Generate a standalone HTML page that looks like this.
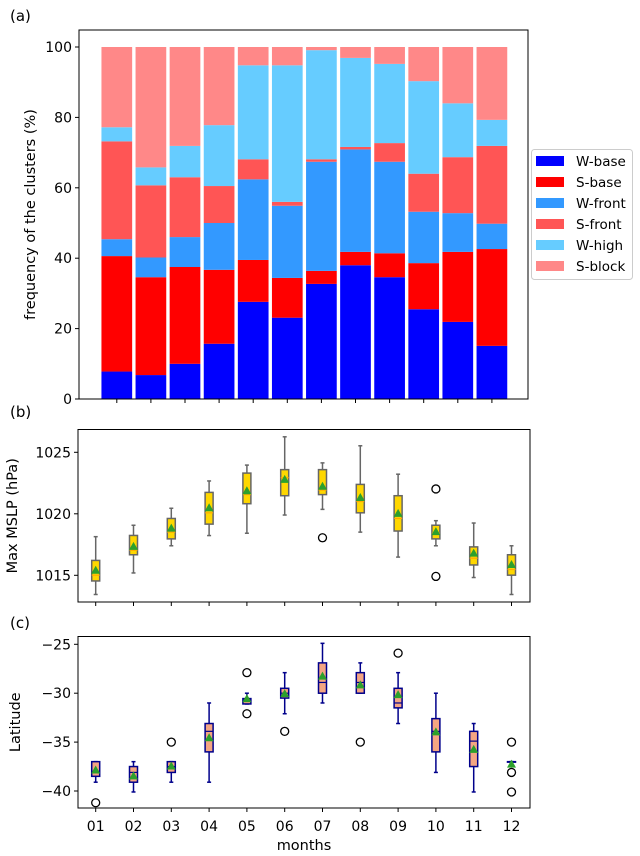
<!DOCTYPE html>
<html><head><meta charset="utf-8"><style>
html,body{margin:0;padding:0;background:#fff;}
svg{display:block;font-family:"DejaVu Sans","Liberation Sans",sans-serif;}
</style></head><body>
<svg id="fig" width="640" height="856" viewBox="0 0 640 856" xmlns="http://www.w3.org/2000/svg">
<g id="pa"></g>
<g id="pb"></g>
<g id="pc"></g>
</svg>
<script>
// Panel (a) data: percentage per cluster per month
const months = ["01","02","03","04","05","06","07","08","09","10","11","12"];
const clusterNames = ["W-base","S-base","W-front","S-front","W-high","S-block"];
const clusterColors = ["#0000ff","#ff0000","#3399ff","#ff5555","#66ccff","#ff8888"];
const wBase  = [7.8,6.8,10.0,15.7,27.6,23.1,32.7,38.0,34.6,25.5,21.9,15.1];
const sBase  = [32.8,27.8,27.5,21.0,11.9,11.3,3.7,3.8,6.8,13.1,19.9,27.5];
const wFront = [4.8,5.6,8.5,13.3,22.9,20.5,31.0,29.1,26.0,14.6,11.0,7.2];
const sFront = [27.8,20.5,17.0,10.5,5.7,1.1,0.7,0.7,5.3,10.8,15.9,22.1];
const wHigh  = [4.0,5.1,8.9,17.3,26.7,38.8,31.0,25.3,22.5,26.3,15.3,7.4];
const sBlock = [22.8,34.2,28.1,22.2,5.2,5.2,0.9,3.1,4.8,9.7,16.0,20.7];
const yTicksA = [0,20,40,60,80,100];
// Panel (b) Max MSLP boxplots
const mslpWhiskLo = [1013.44,1015.19,1017.40,1018.23,1018.42,1019.90,1020.36,1018.51,1016.48,1017.40,1014.82,1013.44];
const mslpQ1      = [1014.54,1016.67,1017.96,1019.16,1020.82,1021.47,1021.56,1020.08,1018.60,1017.96,1015.84,1015.01];
const mslpMedian  = [1015.01,1017.04,1018.51,1020.08,1021.56,1022.94,1021.93,1021.00,1019.62,1018.42,1016.39,1015.47];
const mslpQ3      = [1016.21,1018.24,1019.62,1021.74,1023.31,1023.59,1023.59,1022.39,1021.47,1019.07,1017.31,1016.67];
const mslpWhiskHi = [1018.14,1019.07,1020.45,1022.67,1023.96,1026.26,1024.14,1025.53,1023.22,1019.44,1019.25,1017.40];
const mslpMean    = [1015.37,1017.31,1018.79,1020.45,1021.83,1022.76,1022.20,1021.28,1019.99,1018.51,1016.76,1015.84];
const mslpOutliers = [[],[],[],[],[],[],[1018.05],[],[],[1022.02,1014.91],[],[]];
const yTicksB = [1015,1020,1025];
// Panel (c) Latitude boxplots
const latWhiskLo = [-39.1,-40.1,-39.1,-39.1,-31.1,-32.1,-31.0,-30.0,-33.1,-38.1,-40.1,-37.0];
const latQ1      = [-38.5,-39.1,-38.1,-36.0,-31.1,-30.5,-30.0,-30.0,-31.5,-36.0,-37.5,-37.0];
const latMedian  = [-38.0,-38.1,-37.5,-33.9,-30.6,-30.0,-28.9,-28.9,-31.0,-33.9,-34.9,-37.0];
const latQ3      = [-37.0,-37.5,-37.0,-33.1,-30.55,-29.5,-26.9,-27.9,-29.5,-32.6,-33.9,-37.0];
const latWhiskHi = [-37.0,-37.0,-37.0,-31.0,-30.0,-27.9,-24.9,-26.9,-27.9,-30.0,-33.1,-37.0];
const latMean    = [-37.9,-38.5,-37.5,-34.6,-30.6,-30.1,-28.3,-29.2,-30.2,-34.0,-35.8,-37.3];
const latOutliers = [[-41.2],[],[-35.0],[],[-27.9,-32.1],[-33.9],[],[-35.0],[-25.9],[],[],[-35.0,-38.1,-40.1]];
const yTicksC = [-25,-30,-35,-40];

const NS="http://www.w3.org/2000/svg";
function mk(parent,tag,attrs,text){const e=document.createElementNS(NS,tag);for(const k in attrs)e.setAttribute(k,attrs[k]);if(text!==undefined)e.textContent=text;parent.appendChild(e);return e;}

// ---------- Panel A ----------
const pa=document.getElementById('pa');
const aL=79,aR=528,aT=30,aB=399;
const yA=v=>399-v*3.52;
const xA=i=>116.8+34.1*i;
const series=[wBase,sBase,wFront,sFront,wHigh,sBlock];
for(let i=0;i<months.length;i++){
  let cum=0;
  for(let s=0;s<series.length;s++){
    const v=series[s][i];
    const r=mk(pa,'rect',{x:xA(i)-15.35,y:yA(cum+v),width:30.7,height:yA(cum)-yA(cum+v),fill:clusterColors[s]});
    
    
    cum+=v;
  }
  const t=mk(pa,'line',{x1:xA(i),x2:xA(i),y1:aB,y2:aB+4,stroke:'#000','stroke-width':1});
  
  
}
mk(pa,'rect',{x:aL,y:aT,width:aR-aL,height:aB-aT,fill:'none',stroke:'#000','stroke-width':1});
for(const v of yTicksA){
  const y=yA(v);
  mk(pa,'line',{x1:aL-4,x2:aL,y1:y,y2:y,stroke:'#000'});
  const t=mk(pa,'text',{x:aL-7,y:y+5,'text-anchor':'end','font-size':14},String(v));
  
  
}
{const t=mk(pa,'text',{x:35,y:aT+(aB-aT)/2,'text-anchor':'middle','font-size':14.5,transform:`rotate(-90 35 ${aT+(aB-aT)/2})`},'frequency of the clusters (%)');
}
{const t=mk(pa,'text',{x:10,y:21,'font-size':15},'(a)');}
// legend
const lg=mk(pa,'g',{});


mk(lg,'rect',{x:531.5,y:149.5,width:101,height:130,rx:3,fill:'#fff',stroke:'#ccc'});
for(let s=0;s<clusterNames.length;s++){
  const cy=161+21*s;
  const p=mk(lg,'rect',{x:536,y:cy-5,width:28,height:10,fill:clusterColors[s]});
  
  
  const t=mk(lg,'text',{x:576,y:cy+5,'font-size':13.5},clusterNames[s]);
  
  
}

// ---------- Box panels ----------
const xB=i=>95.7+37.8*i;
function boxPanel(g,top,bot,yf,ticks,fmt,lo,q1,med,q3,hi,mean,outs,style,label,title,labelY,titleX){
  const L=78,R=530;
  for(let i=0;i<months.length;i++){
    const x=xB(i),w=4;
    const grp=mk(g,'g',{});
    
    
    mk(grp,'line',{x1:x,x2:x,y1:yf(hi[i]),y2:yf(q3[i]),stroke:style.line,'stroke-width':1.5});
    mk(grp,'line',{x1:x,x2:x,y1:yf(q1[i]),y2:yf(lo[i]),stroke:style.line,'stroke-width':1.5});
    mk(grp,'line',{x1:x-w/2,x2:x+w/2,y1:yf(hi[i]),y2:yf(hi[i]),stroke:style.line,'stroke-width':1.5});
    mk(grp,'line',{x1:x-w/2,x2:x+w/2,y1:yf(lo[i]),y2:yf(lo[i]),stroke:style.line,'stroke-width':1.5});
    const h=Math.max(yf(q1[i])-yf(q3[i]),0.5);
    mk(grp,'rect',{x:x-4,y:yf(q3[i]),width:8,height:h,fill:style.fill,stroke:style.line,'stroke-width':1.5});
    mk(grp,'line',{x1:x-4,x2:x+4,y1:yf(med[i]),y2:yf(med[i]),stroke:style.med,'stroke-width':1.2});
    const my=yf(mean[i]);
    const tri=mk(grp,'polygon',{points:`${x},${my-5} ${x-4.5},${my+3} ${x+4.5},${my+3}`,fill:'#2ca02c'});
    
    
    for(const o of outs[i]){
      const c=mk(grp,'circle',{cx:x,cy:yf(o),r:4,fill:'none',stroke:'#000','stroke-width':1.3});
      
      
    }
    mk(g,'line',{x1:x,x2:x,y1:bot,y2:bot+4,stroke:'#000'});
  }
  mk(g,'rect',{x:L,y:top,width:R-L,height:bot-top,fill:'none',stroke:'#000','stroke-width':1});
  for(const v of ticks){
    const y=yf(v);
    mk(g,'line',{x1:L-4,x2:L,y1:y,y2:y,stroke:'#000'});
    const t=mk(g,'text',{x:L-7,y:y+5,'text-anchor':'end','font-size':14},fmt(v));
    
    
  }
  const cy=top+(bot-top)/2;
  const tt=mk(g,'text',{x:titleX,y:cy,'text-anchor':'middle','font-size':14.5,transform:`rotate(-90 ${titleX} ${cy})`},title);
  
  
  const pl=mk(g,'text',{x:10,y:labelY,'font-size':15},label);
  
  
}
const yBf=v=>575.3-(v-1015)*12.3;
boxPanel(document.getElementById('pb'),429.5,602,yBf,yTicksB,v=>String(v),
  mslpWhiskLo,mslpQ1,mslpMedian,mslpQ3,mslpWhiskHi,mslpMean,mslpOutliers,
  {line:'#666',fill:'#ffd700',med:'#ffaa00'},'(b)','Max MSLP (hPa)',417,17);
const yCf=v=>644.3+(-25-v)*9.78;
boxPanel(document.getElementById('pc'),636.5,808,yCf,yTicksC,v=>'\u2212'+Math.abs(v),
  latWhiskLo,latQ1,latMedian,latQ3,latWhiskHi,latMean,latOutliers,
  {line:'#00008b',fill:'#f4a582',med:'#00008b'},'(c)','Latitude',628,20);
const pc=document.getElementById('pc');
for(let i=0;i<months.length;i++){
  const t=mk(pc,'text',{x:xB(i),y:831,'text-anchor':'middle','font-size':14},months[i]);
  
  
}
{const t=mk(pc,'text',{x:304,y:850,'text-anchor':'middle','font-size':14.5},'months');
}
</script>
</body></html>
